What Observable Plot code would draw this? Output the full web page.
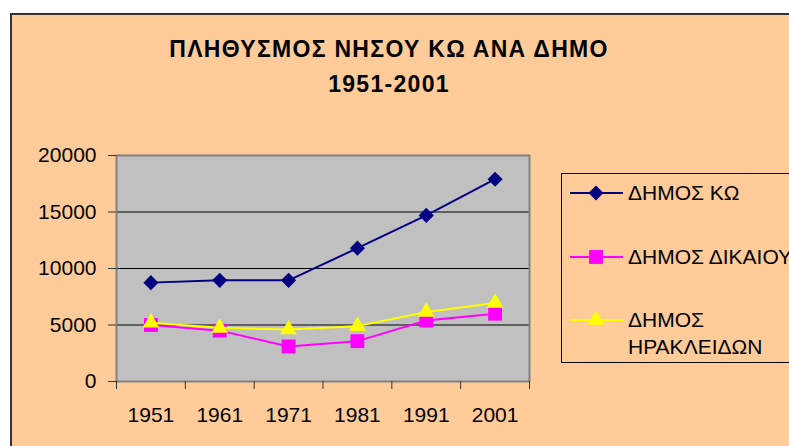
<!DOCTYPE html>
<html><head><meta charset="utf-8">
<script src="https://cdn.jsdelivr.net/npm/d3@7"></script>
<script src="https://cdn.jsdelivr.net/npm/@observablehq/plot@0.6"></script>
<style>
body{margin:0;background:#fff;}
#wrap{position:relative;width:789px;height:446px;overflow:hidden;font-family:"Liberation Sans",Arial,sans-serif;}
#bg{position:absolute;left:10px;top:13px;width:800px;height:450px;background:#FFCC99;border-top:2px solid #333;border-left:2px solid #333;}
#chart{position:absolute;left:0;top:0;}
#overlay{position:absolute;left:0;top:0;}
</style></head><body>
<div id="wrap"><div id="bg"></div><div id="chart"></div><svg id="overlay" width="789" height="446"></svg></div>
<script>
const years = [1951, 1961, 1971, 1981, 1991, 2001];
const seriesNames = ["ΔΗΜΟΣ ΚΩ", "ΔΗΜΟΣ ΔΙΚΑΙΟΥ", "ΔΗΜΟΣ ΗΡΑΚΛΕΙΔΩΝ"];
const kos = [8750, 8950, 8950, 11800, 14700, 17900];
const dikaiou = [5000, 4500, 3100, 3570, 5400, 6000];
const irakleidon = [5200, 4750, 4600, 4900, 6150, 6950];
const yTicks = [0, 5000, 10000, 15000, 20000];
const titleLines = ["ΠΛΗΘΥΣΜΟΣ ΝΗΣΟΥ ΚΩ ΑΝΑ ΔΗΜΟ", "1951-2001"];
const legendLines = [["ΔΗΜΟΣ ΚΩ"], ["ΔΗΜΟΣ ΔΙΚΑΙΟΥ"], ["ΔΗΜΟΣ", "ΗΡΑΚΛΕΙΔΩΝ"]];

const colors = ["#000080", "#FF00FF", "#FFFF00"];
const symbols = ["diamond2", "square", "triangle"];
const d3symbols = [d3.symbolDiamond2, d3.symbolSquare, d3.symbolTriangle];
const radii = [6.8, 7.8, 6.2];
const values = [kos, dikaiou, irakleidon];

const rows = values.map((vals, s) => years.map((yr, i) => ({year: yr, value: vals[i], series: seriesNames[s]})));
const step = years[1] - years[0];
const xBounds = [...years.map(y => y - step / 2), years[years.length - 1] + step / 2];

const marks = [
  Plot.frame({fill: "#C0C0C0"}),
  Plot.ruleY(yTicks.slice(1, -1), {stroke: "#000", strokeWidth: 1}),
  Plot.frame({stroke: "#808080", strokeWidth: 2}),
  Plot.axisY({ticks: yTicks, tickSize: 8, tickPadding: 12, fontSize: 21, tickFormat: d => String(d), label: null, stroke: "#333"}),
  Plot.axisX({ticks: xBounds, tickSize: 8, tickFormat: () => "", label: null, stroke: "#333"}),
  Plot.axisX({ticks: years, tickSize: 0, tickPadding: 26, fontSize: 21, tickFormat: d => String(d), label: null})
];
rows.forEach((r, s) => {
  marks.push(Plot.line(r, {x: "year", y: "value", stroke: colors[s], strokeWidth: 2}));
  marks.push(Plot.dot(r, {x: "year", y: "value", symbol: () => symbols[s], fill: colors[s], stroke: "none", r: radii[s]}));
});

const chart = Plot.plot({
  width: 789, height: 446,
  marginLeft: 116, marginRight: 260, marginTop: 155, marginBottom: 65,
  style: {background: "transparent", fontFamily: "'Liberation Sans', Arial, sans-serif", overflow: "visible"},
  x: {type: "linear", domain: [xBounds[0], xBounds[xBounds.length - 1]]},
  y: {domain: [0, 20000]},
  symbol: {type: "identity"},
  marks
});
document.getElementById("chart").appendChild(chart);

const ov = d3.select("#overlay");
const fam = "'Liberation Sans', Arial, sans-serif";
titleLines.forEach((t, i) => {
  ov.append("text").attr("x", 389).attr("y", [57, 92][i]).attr("text-anchor", "middle")
    .attr("font-family", fam).attr("font-weight", "bold").attr("font-size", 23)
    .attr("letter-spacing", "1.3px").attr("fill", "#000").text(t);
});
ov.append("rect").attr("x", 561.5).attr("y", 173.5).attr("width", 260).attr("height", 189)
  .attr("fill", "none").attr("stroke", "#000").attr("stroke-width", 1);
const rowY = [193, 257, 320];
const baselines = [[200], [264], [327, 354]];
legendLines.forEach((lines, s) => {
  ov.append("line").attr("x1", 570).attr("x2", 623).attr("y1", rowY[s]).attr("y2", rowY[s])
    .attr("stroke", colors[s]).attr("stroke-width", 2);
  ov.append("path").attr("transform", `translate(596,${rowY[s]})`)
    .attr("d", d3.symbol(d3symbols[s], Math.PI * radii[s] * radii[s])()).attr("fill", colors[s]);
  lines.forEach((t, j) => {
    ov.append("text").attr("x", 628).attr("y", baselines[s][j]).attr("font-family", fam)
      .attr("font-size", 21).attr("fill", "#000").text(t);
  });
});
</script>
</body></html>
